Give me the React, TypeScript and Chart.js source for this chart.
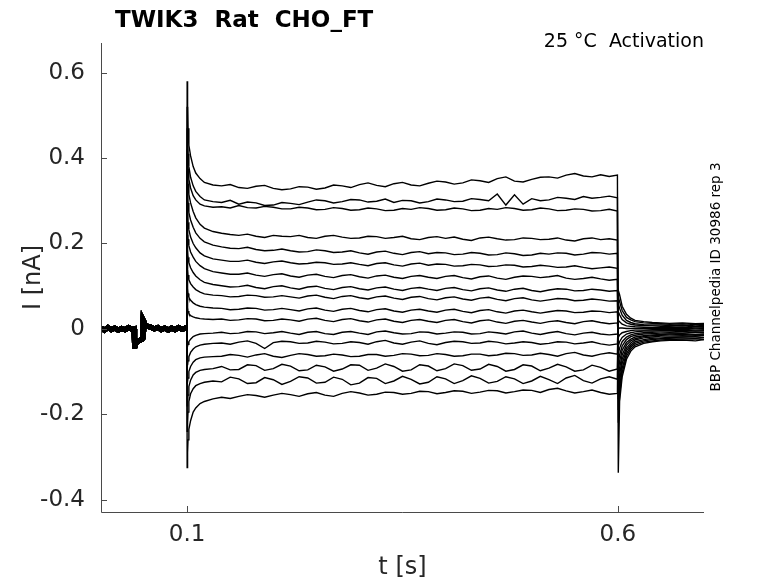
import React, { useEffect, useRef } from "react";
import { Chart, registerables } from "chart.js";

Chart.register(...registerables);

// ---- data (time in s, current in nA) ----
const xTicks = [0.1, 0.6];
const yTicks = [-0.4, -0.2, 0, 0.2, 0.4, 0.6];

// holding period, shared by all sweeps
const baselineT = [0, 0.004, 0.008, 0.012, 0.016, 0.02, 0.024, 0.028, 0.032, 0.036, 0.0385, 0.039, 0.0395, 0.041, 0.044, 0.047, 0.0485, 0.049, 0.0495, 0.051, 0.054, 0.058, 0.062, 0.066, 0.07, 0.074, 0.078, 0.082, 0.086, 0.09, 0.094, 0.098, 0.0998];
const baselineI = [0.002, -0.003, 0.003, -0.002, 0.002, -0.003, 0.001, -0.002, 0.003, -0.001, 0.0, -0.045, -0.04, -0.032, -0.028, -0.025, -0.022, 0.02, 0.018, 0.01, 0.006, 0.004, 0.0, 0.003, -0.002, 0.002, -0.003, 0.002, -0.002, 0.003, -0.001, 0.002, 0.0];

// onset (10 pts), plateau (47 pts), tail (13 pts)
const onsetT = [0.1, 0.1005, 0.101, 0.102, 0.104, 0.107, 0.11, 0.115, 0.12, 0.13];
const plateauT = [0.14, 0.15, 0.16, 0.17, 0.18, 0.19, 0.2, 0.21, 0.22, 0.23,
  0.24, 0.25, 0.26, 0.27, 0.28, 0.29, 0.3, 0.31, 0.32, 0.33,
  0.34, 0.35, 0.36, 0.37, 0.38, 0.39, 0.4, 0.41, 0.42, 0.43,
  0.44, 0.45, 0.46, 0.47, 0.48, 0.49, 0.5, 0.51, 0.52, 0.53,
  0.54, 0.55, 0.56, 0.57, 0.58, 0.59, 0.5995];
const tailT = [0.6005, 0.602, 0.605, 0.61, 0.615, 0.62, 0.63, 0.64, 0.65, 0.66, 0.675, 0.69, 0.7];
const sweepT = [...onsetT, ...plateauT, ...tailT];

const sweep01 = [0.58, 0.52, 0.47, 0.43, 0.405, 0.38, 0.365, 0.352, 0.343, 0.337,
  0.335, 0.338, 0.331, 0.329, 0.334, 0.336, 0.329, 0.326, 0.328, 0.333,
  0.332, 0.327, 0.330, 0.337, 0.335, 0.331, 0.338, 0.342, 0.336, 0.333,
  0.340, 0.343, 0.337, 0.335, 0.341, 0.346, 0.344, 0.339, 0.342, 0.349,
  0.347, 0.343, 0.352, 0.356, 0.346, 0.344, 0.350, 0.355, 0.356, 0.353,
  0.360, 0.364, 0.358, 0.356, 0.361, 0.357, 0.360,
  -0.337, -0.17, -0.112, -0.071, -0.052, -0.042, -0.034, -0.03, -0.028, -0.027, -0.026, -0.028, -0.025];
const sweep02 = [0.52, 0.45, 0.41, 0.38, 0.355, 0.335, 0.322, 0.31, 0.302, 0.298,
  0.296, 0.301, 0.292, 0.297, 0.295, 0.289, 0.290, 0.296, 0.294, 0.291,
  0.297, 0.302, 0.300, 0.295, 0.298, 0.303, 0.302, 0.297, 0.299, 0.304,
  0.296, 0.301, 0.300, 0.295, 0.298, 0.304, 0.302, 0.298, 0.299, 0.305,
  0.303, 0.300, 0.316, 0.290, 0.314, 0.292, 0.305, 0.300, 0.302, 0.308,
  0.306, 0.303, 0.310, 0.306, 0.308, 0.311, 0.307,
  -0.22, -0.154, -0.102, -0.064, -0.047, -0.038, -0.031, -0.028, -0.026, -0.025, -0.024, -0.023, -0.025];
const sweep03 = [0.47, 0.41, 0.375, 0.35, 0.33, 0.312, 0.302, 0.292, 0.288, 0.285,
  0.286, 0.283, 0.289, 0.284, 0.283, 0.287, 0.285, 0.281, 0.281, 0.285,
  0.283, 0.279, 0.280, 0.284, 0.282, 0.278, 0.279, 0.283, 0.281, 0.277,
  0.278, 0.282, 0.280, 0.284, 0.282, 0.278, 0.279, 0.283, 0.281, 0.277,
  0.278, 0.282, 0.280, 0.284, 0.282, 0.278, 0.279, 0.283, 0.281, 0.277,
  0.278, 0.281, 0.280, 0.276, 0.277, 0.280, 0.276,
  -0.19, -0.139, -0.092, -0.058, -0.042, -0.034, -0.028, -0.025, -0.023, -0.022, -0.021, -0.022, -0.02];
const sweep04 = [0.42, 0.37, 0.34, 0.315, 0.295, 0.275, 0.26, 0.245, 0.236, 0.228,
  0.224, 0.221, 0.219, 0.222, 0.217, 0.214, 0.219, 0.217, 0.216, 0.219,
  0.214, 0.212, 0.217, 0.219, 0.215, 0.212, 0.213, 0.217, 0.216, 0.212,
  0.214, 0.217, 0.211, 0.209, 0.214, 0.216, 0.212, 0.215, 0.210, 0.207,
  0.213, 0.215, 0.211, 0.208, 0.209, 0.213, 0.212, 0.209, 0.210, 0.213,
  0.208, 0.206, 0.211, 0.213, 0.209, 0.211, 0.208,
  -0.165, -0.123, -0.081, -0.051, -0.038, -0.03, -0.025, -0.022, -0.021, -0.02, -0.019, -0.018, -0.02];
const sweep05 = [0.37, 0.32, 0.295, 0.272, 0.255, 0.238, 0.225, 0.212, 0.204, 0.196,
  0.192, 0.189, 0.188, 0.191, 0.186, 0.183, 0.184, 0.187, 0.183, 0.180,
  0.181, 0.185, 0.183, 0.179, 0.180, 0.183, 0.178, 0.175, 0.180, 0.182,
  0.177, 0.174, 0.179, 0.181, 0.176, 0.179, 0.178, 0.174, 0.175, 0.179,
  0.177, 0.173, 0.174, 0.178, 0.176, 0.172, 0.173, 0.177, 0.175, 0.178,
  0.177, 0.173, 0.175, 0.179, 0.178, 0.175, 0.177,
  -0.14, -0.108, -0.071, -0.045, -0.033, -0.026, -0.021, -0.019, -0.017, -0.017, -0.016, -0.017, -0.015];
const sweep06 = [0.32, 0.275, 0.25, 0.232, 0.215, 0.2, 0.19, 0.178, 0.171, 0.164,
  0.161, 0.158, 0.158, 0.161, 0.156, 0.153, 0.157, 0.159, 0.155, 0.152,
  0.153, 0.156, 0.155, 0.151, 0.152, 0.155, 0.151, 0.148, 0.153, 0.155,
  0.150, 0.147, 0.152, 0.154, 0.149, 0.152, 0.151, 0.147, 0.148, 0.151,
  0.150, 0.146, 0.147, 0.150, 0.149, 0.145, 0.146, 0.149, 0.147, 0.144,
  0.145, 0.148, 0.144, 0.141, 0.143, 0.145, 0.142,
  -0.12, -0.092, -0.061, -0.038, -0.028, -0.023, -0.018, -0.016, -0.015, -0.014, -0.013, -0.015, -0.014];
const sweep07 = [0.27, 0.23, 0.21, 0.195, 0.18, 0.168, 0.158, 0.148, 0.141, 0.134,
  0.131, 0.128, 0.128, 0.131, 0.126, 0.123, 0.127, 0.129, 0.124, 0.121,
  0.126, 0.128, 0.123, 0.120, 0.125, 0.127, 0.122, 0.119, 0.124, 0.126,
  0.121, 0.118, 0.123, 0.125, 0.121, 0.118, 0.123, 0.125, 0.120, 0.117,
  0.122, 0.124, 0.119, 0.116, 0.121, 0.124, 0.123, 0.120, 0.122, 0.125,
  0.119, 0.116, 0.118, 0.121, 0.117, 0.114, 0.116,
  -0.1, -0.076, -0.05, -0.032, -0.024, -0.019, -0.016, -0.014, -0.013, -0.012, -0.011, -0.013, -0.012];
const sweep08 = [0.22, 0.185, 0.168, 0.155, 0.143, 0.132, 0.124, 0.115, 0.109, 0.104,
  0.101, 0.098, 0.099, 0.102, 0.097, 0.094, 0.099, 0.101, 0.096, 0.093,
  0.098, 0.100, 0.095, 0.092, 0.097, 0.099, 0.094, 0.091, 0.096, 0.098,
  0.093, 0.090, 0.095, 0.097, 0.093, 0.090, 0.095, 0.097, 0.092, 0.089,
  0.094, 0.096, 0.091, 0.088, 0.093, 0.095, 0.090, 0.087, 0.091, 0.094,
  0.093, 0.089, 0.090, 0.093, 0.091, 0.088, 0.090,
  -0.08, -0.061, -0.04, -0.025, -0.018, -0.015, -0.012, -0.011, -0.01, -0.009, -0.01, -0.008, -0.009];
const sweep09 = [0.17, 0.14, 0.126, 0.115, 0.106, 0.098, 0.092, 0.086, 0.082, 0.079,
  0.078, 0.075, 0.076, 0.079, 0.078, 0.074, 0.075, 0.078, 0.075, 0.072,
  0.077, 0.079, 0.074, 0.071, 0.076, 0.078, 0.073, 0.070, 0.075, 0.077,
  0.072, 0.069, 0.074, 0.076, 0.071, 0.068, 0.073, 0.075, 0.070, 0.067,
  0.072, 0.074, 0.069, 0.066, 0.071, 0.073, 0.068, 0.065, 0.068, 0.071,
  0.070, 0.066, 0.067, 0.070, 0.068, 0.065, 0.066,
  -0.06, -0.045, -0.03, -0.019, -0.014, -0.011, -0.009, -0.008, -0.007, -0.007, -0.006, -0.008, -0.007];
const sweep10 = [0.12, 0.095, 0.083, 0.074, 0.067, 0.061, 0.057, 0.053, 0.051, 0.049,
  0.048, 0.045, 0.046, 0.049, 0.048, 0.044, 0.045, 0.048, 0.045, 0.042,
  0.047, 0.049, 0.044, 0.041, 0.046, 0.048, 0.043, 0.040, 0.045, 0.047,
  0.042, 0.039, 0.044, 0.046, 0.042, 0.039, 0.044, 0.046, 0.041, 0.038,
  0.043, 0.045, 0.040, 0.037, 0.042, 0.044, 0.040, 0.037, 0.040, 0.043,
  0.042, 0.038, 0.039, 0.042, 0.041, 0.038, 0.040,
  -0.04, -0.03, -0.02, -0.012, -0.009, -0.007, -0.005, -0.005, -0.004, -0.004, -0.003, -0.005, -0.004];
const sweep11 = [0.07, 0.05, 0.042, 0.036, 0.031, 0.028, 0.026, 0.024, 0.023, 0.022,
  0.023, 0.020, 0.021, 0.024, 0.023, 0.019, 0.020, 0.023, 0.021, 0.018,
  0.023, 0.025, 0.020, 0.017, 0.022, 0.024, 0.019, 0.016, 0.021, 0.023,
  0.018, 0.015, 0.020, 0.022, 0.018, 0.015, 0.020, 0.022, 0.017, 0.014,
  0.019, 0.021, 0.016, 0.013, 0.018, 0.020, 0.016, 0.013, 0.017, 0.019,
  0.015, 0.012, 0.017, 0.019, 0.015, 0.012, 0.014,
  -0.02, -0.014, -0.009, -0.006, -0.004, -0.003, -0.003, -0.002, -0.002, -0.002, -0.001, -0.003, -0.002];
const sweep12 = [-0.03, -0.04, -0.036, -0.03, -0.024, -0.018, -0.015, -0.012, -0.011, -0.01,
  -0.008, -0.011, -0.010, -0.006, -0.007, -0.011, -0.009, -0.006, -0.010, -0.013,
  -0.008, -0.006, -0.011, -0.013, -0.008, -0.006, -0.010, -0.013, -0.007, -0.005,
  -0.009, -0.012, -0.011, -0.007, -0.008, -0.012, -0.010, -0.007, -0.008, -0.012,
  -0.011, -0.007, -0.009, -0.012, -0.007, -0.005, -0.010, -0.013, -0.009, -0.006,
  -0.011, -0.014, -0.010, -0.008, -0.012, -0.014, -0.012,
  0.0, 0.002, 0.002, 0.001, 0.001, 0.001, 0.001, 0.001, 0.001, 0.001, 0.002, 0.0, 0.001];
const sweep13 = [-0.08, -0.085, -0.075, -0.065, -0.055, -0.047, -0.042, -0.038, -0.036, -0.034,
  -0.033, -0.036, -0.031, -0.028, -0.034, -0.046, -0.032, -0.029, -0.030, -0.034,
  -0.033, -0.029, -0.031, -0.035, -0.034, -0.030, -0.032, -0.036, -0.030, -0.027,
  -0.033, -0.036, -0.031, -0.028, -0.034, -0.037, -0.032, -0.029, -0.030, -0.034,
  -0.033, -0.029, -0.031, -0.035, -0.033, -0.030, -0.032, -0.036, -0.034, -0.030,
  -0.031, -0.035, -0.033, -0.030, -0.035, -0.038, -0.035,
  0.02, 0.017, 0.011, 0.007, 0.006, 0.005, 0.004, 0.003, 0.003, 0.003, 0.004, 0.002, 0.003];
const sweep14 = [-0.13, -0.13, -0.115, -0.1, -0.088, -0.078, -0.072, -0.068, -0.066, -0.065,
  -0.064, -0.060, -0.062, -0.066, -0.061, -0.058, -0.064, -0.067, -0.062, -0.058,
  -0.060, -0.064, -0.063, -0.059, -0.061, -0.065, -0.064, -0.060, -0.060, -0.064,
  -0.062, -0.058, -0.059, -0.063, -0.062, -0.058, -0.060, -0.064, -0.063, -0.059,
  -0.059, -0.063, -0.061, -0.057, -0.058, -0.062, -0.061, -0.057, -0.060, -0.064,
  -0.058, -0.055, -0.061, -0.064, -0.059, -0.056, -0.059,
  0.04, 0.033, 0.022, 0.014, 0.011, 0.009, 0.008, 0.007, 0.006, 0.006, 0.007, 0.005, 0.006];
const sweep15 = [-0.18, -0.175, -0.155, -0.135, -0.12, -0.108, -0.102, -0.097, -0.095, -0.093,
  -0.088, -0.096, -0.095, -0.084, -0.086, -0.097, -0.093, -0.083, -0.087, -0.098,
  -0.096, -0.085, -0.089, -0.099, -0.094, -0.084, -0.085, -0.097, -0.092, -0.082,
  -0.088, -0.099, -0.096, -0.084, -0.087, -0.098, -0.093, -0.082, -0.086, -0.097,
  -0.094, -0.083, -0.088, -0.099, -0.095, -0.084, -0.087, -0.098, -0.092, -0.083,
  -0.089, -0.099, -0.096, -0.085, -0.090, -0.099, -0.094,
  0.06, 0.048, 0.032, 0.02, 0.015, 0.012, 0.01, 0.009, 0.009, 0.008, 0.009, 0.007, 0.008];
const sweep16 = [-0.24, -0.22, -0.195, -0.17, -0.152, -0.14, -0.133, -0.128, -0.125, -0.122,
  -0.124, -0.113, -0.117, -0.128, -0.126, -0.114, -0.119, -0.130, -0.123, -0.112,
  -0.115, -0.127, -0.125, -0.113, -0.118, -0.131, -0.127, -0.114, -0.116, -0.128,
  -0.122, -0.111, -0.118, -0.129, -0.125, -0.112, -0.117, -0.128, -0.121, -0.110,
  -0.116, -0.127, -0.123, -0.112, -0.117, -0.128, -0.122, -0.111, -0.119, -0.128,
  -0.115, -0.109, -0.121, -0.127, -0.117, -0.112, -0.118,
  0.075, 0.064, 0.043, 0.027, 0.021, 0.017, 0.014, 0.013, 0.012, 0.011, 0.012, 0.01, 0.011];
const sweep17 = [-0.325, -0.29, -0.26, -0.235, -0.215, -0.195, -0.185, -0.175, -0.17, -0.164,
  -0.160, -0.163, -0.158, -0.154, -0.156, -0.160, -0.155, -0.151, -0.154, -0.158,
  -0.152, -0.149, -0.155, -0.158, -0.151, -0.147, -0.150, -0.155, -0.153, -0.148,
  -0.149, -0.153, -0.151, -0.146, -0.147, -0.152, -0.149, -0.145, -0.146, -0.151,
  -0.148, -0.144, -0.145, -0.150, -0.147, -0.143, -0.144, -0.149, -0.142, -0.139,
  -0.145, -0.150, -0.147, -0.143, -0.149, -0.153, -0.151,
  0.09, 0.08, 0.053, 0.034, 0.025, 0.02, 0.017, 0.015, 0.014, 0.013, 0.014, 0.012, 0.013];

const sweeps = [sweep01, sweep02, sweep03, sweep04, sweep05, sweep06, sweep07, sweep08, sweep09,
  sweep10, sweep11, sweep12, sweep13, sweep14, sweep15, sweep16, sweep17];

const titleText = "TWIK3  Rat  CHO_FT";
const conditionText = "25 °C  Activation";
const sideText = "BBP Channelpedia ID 30986 rep 3";
const xTitle = "t [s]";
const yTitle = "I [nA]";

const FONT = "'DejaVu Sans', 'Liberation Sans', sans-serif";
const AXIS = "#262626";

const decorPlugin = {
  id: "decor",
  afterDraw(chart: any) {
    const { ctx, chartArea: a, scales } = chart;
    const xs = scales.x;
    const ys = scales.y;
    ctx.save();
    // axis lines
    ctx.strokeStyle = "#4a4a4a";
    ctx.lineWidth = 1;
    ctx.beginPath();
    ctx.moveTo(a.left + 0.5, a.top);
    ctx.lineTo(a.left + 0.5, a.bottom + 0.5);
    ctx.lineTo(a.right, a.bottom + 0.5);
    ctx.stroke();
    // inward ticks
    ctx.beginPath();
    for (const v of yTicks) {
      const p = Math.round(ys.getPixelForValue(v)) + 0.5;
      ctx.moveTo(a.left, p);
      ctx.lineTo(a.left + 6, p);
    }
    for (const v of xTicks) {
      const p = Math.round(xs.getPixelForValue(v)) + 0.5;
      ctx.moveTo(p, a.bottom);
      ctx.lineTo(p, a.bottom - 6);
    }
    ctx.stroke();

    // title
    ctx.fillStyle = "#000";
    ctx.font = `bold 23px ${FONT}`;
    ctx.textAlign = "left";
    ctx.textBaseline = "alphabetic";
    ctx.fillText(titleText, 115, 27);

    // condition
    ctx.font = `19px ${FONT}`;
    ctx.textAlign = "right";
    ctx.fillText(conditionText, a.right, 47);

    // axis titles
    ctx.fillStyle = AXIS;
    ctx.font = `24px ${FONT}`;
    ctx.textAlign = "center";
    ctx.fillText(xTitle, (a.left + a.right) / 2, 574);
    ctx.save();
    ctx.translate(40, (a.top + a.bottom) / 2);
    ctx.rotate(-Math.PI / 2);
    ctx.fillText(yTitle, 0, 0);
    ctx.restore();

    // side text
    ctx.fillStyle = "#000";
    ctx.font = `13.5px ${FONT}`;
    ctx.save();
    ctx.translate(720, 277);
    ctx.rotate(-Math.PI / 2);
    ctx.textAlign = "center";
    ctx.fillText(sideText, 0, 0);
    ctx.restore();
    ctx.restore();
  },
};

export default function App() {
  const ref = useRef<HTMLCanvasElement | null>(null);
  useEffect(() => {
    document.body.style.margin = "0";
    if (!ref.current) return;
    const datasets = sweeps.map((s) => ({
      data: [
        ...baselineT.map((t, i) => ({ x: t, y: baselineI[i] })),
        ...sweepT.map((t, i) => ({ x: t, y: s[i] })),
      ],
      borderColor: "#000",
      borderWidth: 1.4,
      pointRadius: 0,
      tension: 0,
      fill: false,
      segment: {
        borderWidth: (c: any) => (c.p1.parsed.x < 0.0999 ? 5 : 1.4),
      },
    }));
    const chart = new Chart(ref.current, {
      type: "line",
      data: { datasets },
      options: {
        animation: false,
        responsive: false,
        devicePixelRatio: 1,
        events: [],
        layout: { padding: { left: 0, top: 43, right: 74, bottom: 0 } },
        plugins: { legend: { display: false }, tooltip: { enabled: false }, title: { display: false } },
        scales: {
          x: {
            type: "linear",
            min: 0,
            max: 0.7,
            grid: { display: false, drawTicks: false },
            border: { display: false },
            afterBuildTicks: (s: any) => {
              s.ticks = xTicks.map((v) => ({ value: v }));
            },
            afterFit: (s: any) => {
              s.height = 71;
            },
            ticks: {
              padding: 9,
              color: AXIS,
              font: { family: FONT, size: 23 },
              maxRotation: 0,
              callback: (v: any) => String(v),
            },
          },
          y: {
            type: "linear",
            min: -0.4288,
            max: 0.6695,
            grid: { display: false, drawTicks: false },
            border: { display: false },
            afterBuildTicks: (s: any) => {
              s.ticks = yTicks.map((v) => ({ value: v }));
            },
            afterFit: (s: any) => {
              s.width = 101;
            },
            ticks: {
              padding: 16,
              color: AXIS,
              font: { family: FONT, size: 23 },
              callback: (v: any) => (Math.abs(v) < 1e-9 ? "0" : String(Math.round(v * 10) / 10)),
            },
          },
        },
      },
      plugins: [decorPlugin],
    });
    return () => chart.destroy();
  }, []);
  return <canvas ref={ref} width={778} height={583} style={{ display: "block" }} />;
}
